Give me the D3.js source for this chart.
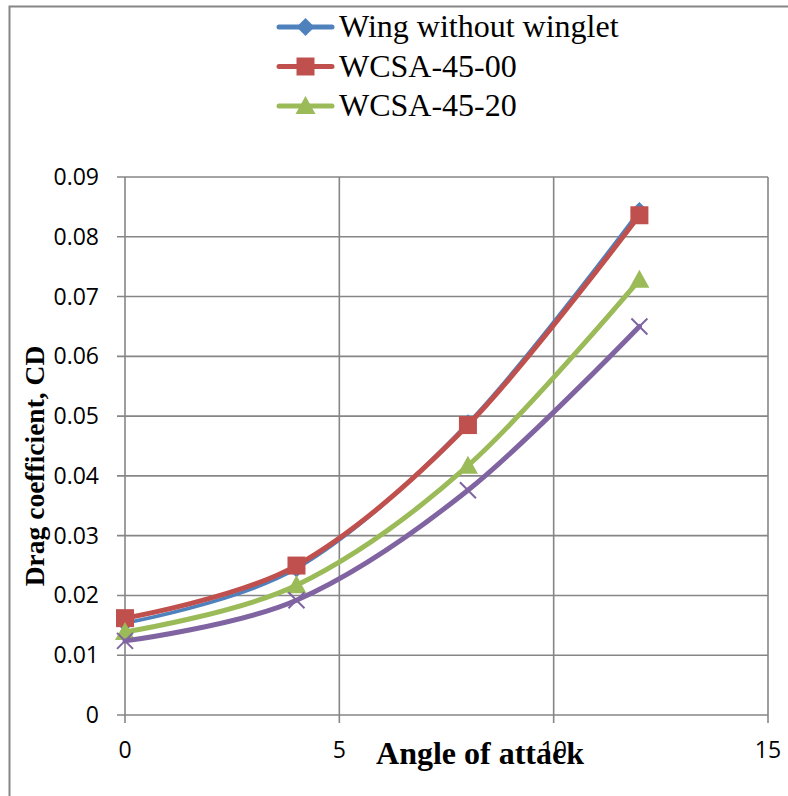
<!DOCTYPE html>
<html>
<head>
<meta charset="utf-8">
<script src="https://cdn.jsdelivr.net/npm/d3@7"></script>
<style>
  html, body { margin: 0; padding: 0; background: #fff; }
  svg { display: block; }
</style>
</head>
<body>
<svg id="chart" width="788" height="796"></svg>
<script>
// Drag coefficient vs. angle of attack for each wing configuration
const angles = [0, 4, 8, 12];
const seriesNames = ["Wing without winglet", "WCSA-45-00", "WCSA-45-20", "WCSA-45-40"];
const wingWithout = [0.0154, 0.0245, 0.0488, 0.0843];
const wcsa4500    = [0.0162, 0.0250, 0.0485, 0.0836];
const wcsa4520    = [0.0139, 0.0217, 0.0417, 0.0728];
const wcsa4540    = [0.0124, 0.0192, 0.0376, 0.0650];
const xTicks = [0, 5, 10, 15];
const yTicks = [0, 0.01, 0.02, 0.03, 0.04, 0.05, 0.06, 0.07, 0.08, 0.09];
const legendCount = 3;

const colors = ["#4F81BD", "#C0504D", "#9BBB59", "#8064A2"];
const markers = ["diamond", "square", "triangle", "cross"];
const allValues = [wingWithout, wcsa4500, wcsa4520, wcsa4540];

const svg = d3.select("#chart");

// chart frame
svg.append("rect")
  .attr("x", 9.5).attr("y", 6.5)
  .attr("width", 800).attr("height", 800)
  .attr("fill", "none").attr("stroke", "#868686").attr("stroke-width", 2);

const x = d3.scaleLinear().domain([0, 15]).range([125, 768]);
const y = d3.scaleLinear().domain([0, 0.09]).range([715, 177]);

const gridColor = "#868686";

// grid
svg.append("g").selectAll("line").data(yTicks).join("line")
  .attr("x1", x(0) - 8).attr("x2", x(15))
  .attr("y1", d => y(d)).attr("y2", d => y(d))
  .attr("stroke", gridColor).attr("stroke-width", 1.6);
svg.append("g").selectAll("line").data(xTicks).join("line")
  .attr("x1", d => x(d)).attr("x2", d => x(d))
  .attr("y1", y(0.09)).attr("y2", y(0) + 8)
  .attr("stroke", gridColor).attr("stroke-width", 1.6);

// tick labels
const tickFont = "'Open Sans', 'Noto Sans', sans-serif";
svg.append("g").selectAll("text").data(yTicks).join("text")
  .attr("x", 99).attr("y", d => y(d) + 8)
  .attr("text-anchor", "end")
  .attr("font-family", tickFont).attr("font-size", 23)
  .text(d => d === 0 ? "0" : d3.format(".2f")(d));
svg.append("g").selectAll("text").data(xTicks).join("text")
  .attr("x", d => x(d)).attr("y", 758)
  .attr("text-anchor", "middle")
  .attr("font-family", tickFont).attr("font-size", 23)
  .text(d => d);

// axis titles
svg.append("text")
  .attr("transform", "translate(44,466) rotate(-90)")
  .attr("text-anchor", "middle")
  .attr("font-family", "'Liberation Serif', serif").attr("font-weight", "bold")
  .attr("font-size", 27.5)
  .text("Drag coefficient, CD");
svg.append("text")
  .attr("x", 480).attr("y", 764)
  .attr("text-anchor", "middle")
  .attr("font-family", "'Liberation Serif', serif").attr("font-weight", "bold")
  .attr("font-size", 32)
  .text("Angle of attack");

function markerPath(kind) {
  if (kind === "diamond") return "M0,-9L9,0L0,9L-9,0Z";
  if (kind === "square") return "M-9,-9H9V9H-9Z";
  if (kind === "triangle") return "M0,-10L10,8H-10Z";
  return "M-8,-8L8,8M-8,8L8,-8";
}
function drawMarker(g, kind, color, cx, cy) {
  const p = g.append("path").attr("d", markerPath(kind))
    .attr("transform", `translate(${cx},${cy})`);
  if (kind === "cross") p.attr("fill", "none").attr("stroke", color).attr("stroke-width", 2);
  else p.attr("fill", color).attr("stroke", "none");
}

const line = d3.line()
  .x(d => x(d[0])).y(d => y(d[1]))
  .curve(d3.curveCardinal.tension(0));

// series, drawn in order so later ones sit on top
allValues.forEach((vals, i) => {
  const pts = angles.map((a, j) => [a, vals[j]]);
  const g = svg.append("g");
  g.append("path").datum(pts).attr("d", line)
    .attr("fill", "none").attr("stroke", colors[i])
    .attr("stroke-width", i === 0 ? 3.5 : 5)
    .attr("stroke-linejoin", "round").attr("stroke-linecap", "round");
  pts.forEach(p => drawMarker(g, markers[i], colors[i], x(p[0]), y(p[1])));
});

// legend
const legend = svg.append("g");
for (let i = 0; i < legendCount; i++) {
  const ly = 27 + i * 39.5;
  legend.append("line")
    .attr("x1", 279).attr("x2", 332).attr("y1", ly).attr("y2", ly)
    .attr("stroke", colors[i]).attr("stroke-width", 5).attr("stroke-linecap", "round");
  drawMarker(legend, markers[i], colors[i], 305.5, ly);
  legend.append("text")
    .attr("x", 339).attr("y", ly + 10)
    .attr("font-family", "'Liberation Serif', serif").attr("font-size", 32)
    .text(seriesNames[i]);
}
</script>
</body>
</html>
